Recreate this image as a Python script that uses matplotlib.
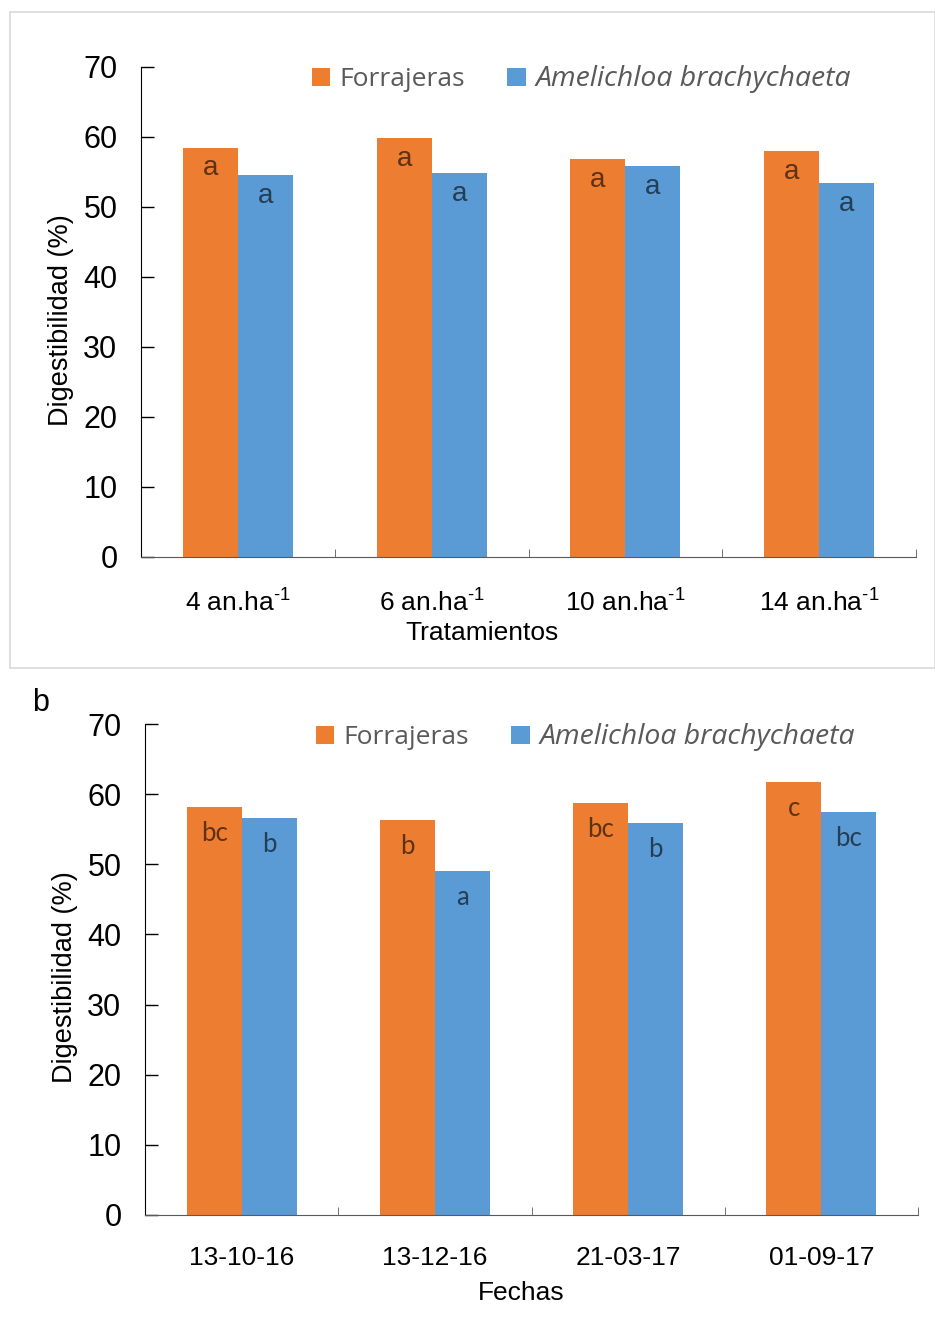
import matplotlib
matplotlib.use("Agg")
import matplotlib.pyplot as plt
import numpy as np
from matplotlib.patches import Patch, Rectangle

# ---- data ----
series_names = ["Forrajeras", "Amelichloa brachychaeta"]
colors = ["#ED7D31", "#5B9BD5"]

cats_top = [r"4 an.ha$^{\text{-1}}$", r"6 an.ha$^{\text{-1}}$",
            r"10 an.ha$^{\text{-1}}$", r"14 an.ha$^{\text{-1}}$"]
forr_top = [58.5, 59.8, 56.9, 58.0]
amel_top = [54.6, 54.9, 55.9, 53.4]
lab_forr_top = ["a", "a", "a", "a"]
lab_amel_top = ["a", "a", "a", "a"]

cats_bot = ["13-10-16", "13-12-16", "21-03-17", "01-09-17"]
forr_bot = [58.1, 56.3, 58.7, 61.7]
amel_bot = [56.6, 49.0, 55.9, 57.4]
lab_forr_bot = ["bc", "b", "bc", "c"]
lab_amel_bot = ["b", "a", "b", "bc"]

yticks = [0, 10, 20, 30, 40, 50, 60, 70]

plt.rcParams["mathtext.fontset"] = "custom"
plt.rcParams["mathtext.rm"] = "Liberation Sans"

W, H = 935, 1320
fig = plt.figure(figsize=(W / 100, H / 100), dpi=100)
fig.patch.set_facecolor("white")

# light frame around top panel
fig.patches.append(Rectangle((10 / W, 1 - 668 / H), (W - 10) / W, (668 - 12) / H,
                             transform=fig.transFigure, fill=False,
                             edgecolor="#d9d9d9", linewidth=1.2))

def panel(rect, cats, vf, va, lf, la, xlabel, xlab_xy, ylab_xy,
          lab_font, lab_size, lab_off, leg_y, leg_x):
    ax = fig.add_axes(rect)
    x = np.arange(len(cats))
    bw = 0.284
    ax.bar(x - bw / 2, vf, bw, color=colors[0], zorder=2)
    ax.bar(x + bw / 2, va, bw, color=colors[1], zorder=2)
    for xi, v, t in zip(x - bw / 2, vf, lf):
        ax.annotate(t, (xi, v), xytext=(0, lab_off), textcoords="offset points",
                    ha="center", va="center", fontsize=lab_size, family=lab_font,
                    color="black", alpha=0.6)
    for xi, v, t in zip(x + bw / 2, va, la):
        ax.annotate(t, (xi, v), xytext=(0, lab_off), textcoords="offset points",
                    ha="center", va="center", fontsize=lab_size, family=lab_font,
                    color="black", alpha=0.6)
    ax.set_xlim(-0.5, len(cats) - 0.5)
    ax.set_ylim(0, 70)
    ax.set_yticks(yticks)
    ax.set_yticklabels([str(v) for v in yticks], fontsize=22, family="Liberation Sans")
    ax.set_xticks(x)
    ax.set_xticklabels(cats, fontsize=19, family="Liberation Sans")
    ax.set_xticks(np.arange(len(cats) + 1) - 0.5, minor=True)
    ax.tick_params(axis="x", which="major", length=0, pad=22)
    ax.tick_params(axis="x", which="minor", length=6, direction="in", color="#595959")
    ax.tick_params(axis="y", length=9, direction="in", width=1, pad=17)
    for s in ["top", "right"]:
        ax.spines[s].set_visible(False)
    ax.spines["left"].set_color("black")
    ax.spines["bottom"].set_color("#595959")
    ax.set_xlabel(xlabel, fontsize=19, family="Liberation Sans")
    ax.xaxis.set_label_coords(*xlab_xy)
    ax.set_ylabel("Digestibilidad (%)", fontsize=19.5, family="Liberation Sans")
    ax.yaxis.set_label_coords(*ylab_xy)
    handles = [Patch(facecolor=c) for c in colors]
    leg = fig.legend(handles, series_names, loc="center left",
                     bbox_to_anchor=(leg_x, leg_y), ncol=2, frameon=False,
                     handlelength=0.7, handleheight=0.7, handletextpad=0.35,
                     columnspacing=1.6, borderaxespad=0, borderpad=0,
                     prop={"family": "Open Sans", "size": 19})
    texts = leg.get_texts()
    for t in texts:
        t.set_color("#595959")
    texts[1].set_fontstyle("italic")
    texts[1].set_fontsize(20.4)
    return ax

ax1 = panel([141 / W, 1 - 557 / H, (916 - 141) / W, (557 - 67) / H],
            cats_top, forr_top, amel_top, lab_forr_top, lab_amel_top,
            "Tratamientos", ((482 - 141) / (916 - 141), -0.13), (-0.086, 0.484),
            "Liberation Sans", 20, -15, 1 - 79 / H, 312 / W)
ax2 = panel([145 / W, 1 - 1215 / H, (918 - 145) / W, (1215 - 724) / H],
            cats_bot, forr_bot, amel_bot, lab_forr_bot, lab_amel_bot,
            "Fechas", ((521 - 145) / (918 - 145), -0.135), (-0.087, 0.485),
            "Lato", 18.5, -19, 1 - 737 / H, 316 / W)

fig.text(32 / W, 1 - 703 / H, "b", fontsize=22, family="Liberation Sans",
         ha="left", va="center")

fig.savefig("out.png", dpi=100, facecolor="white")
